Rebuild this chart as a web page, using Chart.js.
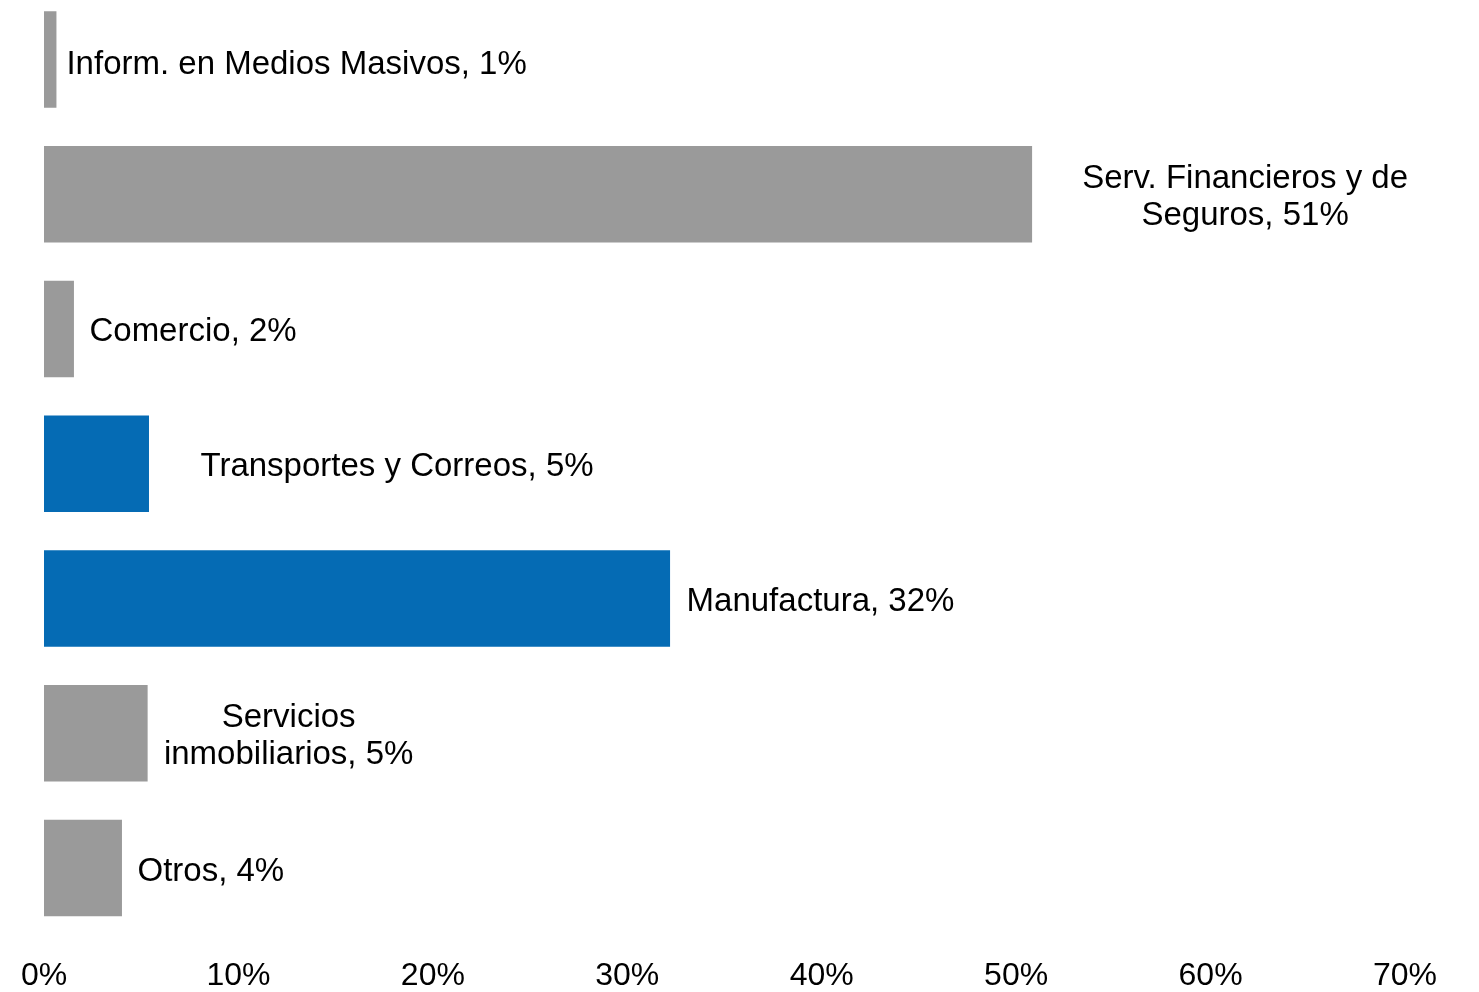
<!DOCTYPE html>
<html lang="es">
<head>
<meta charset="utf-8">
<title>Distribución por sector</title>
<script src="https://cdn.jsdelivr.net/npm/chart.js@4/dist/chart.umd.min.js"></script>
<style>
  html, body { margin: 0; padding: 0; background: #ffffff; }
  #frame { position: relative; width: 1479px; height: 992px; overflow: hidden; }
  /* the category band of the first bar starts slightly above the visible frame */
  #wrap { position: absolute; left: 0; top: -8px; width: 1479px; height: 1000px; }
</style>
</head>
<body>
<div id="frame"><div id="wrap"><canvas id="chart"></canvas></div></div>
<script>
// Sectores (un "\n" marca el salto de línea de la etiqueta)
const sectors = [
  'Inform. en Medios Masivos',
  'Serv. Financieros y de\nSeguros',
  'Comercio',
  'Transportes y Correos',
  'Manufactura',
  'Servicios\ninmobiliarios',
  'Otros'
];

// Participación de cada sector, en %
const shares = [0.64, 50.82, 1.54, 5.40, 32.20, 5.33, 4.01];

// Marcas del eje horizontal, en %
const axisTicks = [0, 10, 20, 30, 40, 50, 60, 70];

// Sectores resaltados en azul
const highlighted = ['Transportes y Correos', 'Manufactura'];

const GRAY = '#9a9a9a';
const BLUE = '#056bb4';
const FONT = '"Liberation Sans", Arial, Helvetica, sans-serif';

// Colocación de cada etiqueta respecto al extremo de su barra
const labelPlacement = [
  { align: 'left',   dx: 10,   dy: 5.5 },
  { align: 'center', dx: 213,  dy: 3.2 },
  { align: 'left',   dx: 15.5, dy: 3 },
  { align: 'left',   dx: 51.5, dy: 3 },
  { align: 'left',   dx: 16.5, dy: 3 },
  { align: 'center', dx: 141,  dy: 3.2 },
  { align: 'left',   dx: 15.5, dy: 3.5 }
];

const barLabels = {
  id: 'barLabels',
  afterDatasetsDraw(chart) {
    const meta = chart.getDatasetMeta(0);
    const ctx = chart.ctx;
    ctx.save();
    ctx.font = '33px ' + FONT;
    ctx.fillStyle = '#000000';
    ctx.textBaseline = 'middle';
    const lineGap = 37;
    meta.data.forEach((bar, i) => {
      const place = labelPlacement[i];
      const text = sectors[i] + ', ' + Math.round(shares[i]) + '%';
      const lines = text.split('\n');
      ctx.textAlign = place.align;
      const x = bar.x + place.dx;
      const y0 = bar.y + place.dy - (lines.length - 1) * lineGap / 2;
      lines.forEach((ln, k) => ctx.fillText(ln, x, y0 + k * lineGap));
    });
    ctx.restore();
  }
};

new Chart(document.getElementById('chart'), {
  type: 'bar',
  data: {
    labels: sectors,
    datasets: [{
      data: shares,
      backgroundColor: sectors.map(s => highlighted.includes(s) ? BLUE : GRAY),
      borderWidth: 0,
      categoryPercentage: 1,
      barPercentage: 0.716
    }]
  },
  options: {
    indexAxis: 'y',
    responsive: true,
    maintainAspectRatio: false,
    animation: false,
    layout: { autoPadding: false, padding: { left: 44, right: 74, top: 0, bottom: 0 } },
    plugins: {
      legend: { display: false },
      tooltip: { enabled: false },
      title: { display: false }
    },
    scales: {
      y: { display: false },
      x: {
        type: 'linear',
        min: axisTicks[0],
        max: axisTicks[axisTicks.length - 1],
        afterBuildTicks(scale) {
          scale.ticks = axisTicks.map(v => ({ value: v }));
        },
        afterFit(scale) {
          // fixed axis band below the bars
          scale.height = 56.5;
          scale.paddingLeft = 0;
          scale.paddingRight = 0;
          scale.paddingTop = 0;
          scale.paddingBottom = 0;
        },
        grid: { display: false, drawTicks: false },
        border: { display: false },
        ticks: {
          padding: 25,
          color: '#000000',
          font: { family: FONT, size: 32, lineHeight: 1 },
          maxRotation: 0,
          autoSkip: false,
          callback: v => v + '%'
        }
      }
    }
  },
  plugins: [barLabels]
});
</script>
</body>
</html>
